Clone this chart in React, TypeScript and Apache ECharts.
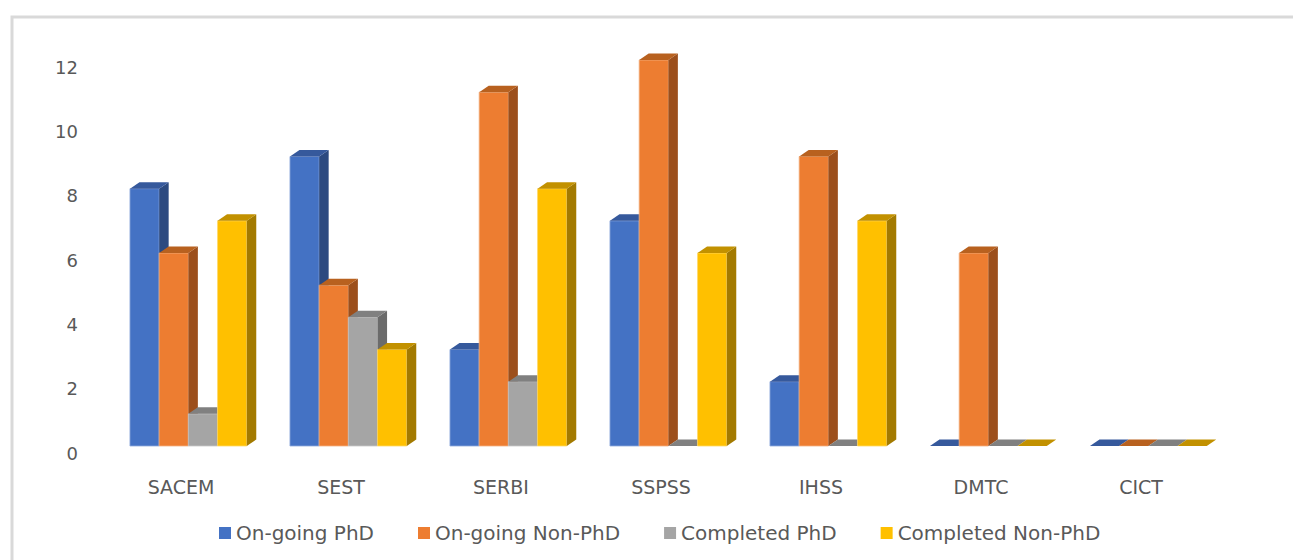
import React, { useEffect, useRef } from "react";
import * as echarts from "echarts";

const categories = ["SACEM", "SEST", "SERBI", "SSPSS", "IHSS", "DMTC", "CICT"];
const seriesNames = ["On-going PhD", "On-going Non-PhD", "Completed PhD", "Completed Non-PhD"];
const ongoingPhd = [8, 9, 3, 7, 2, 0, 0];
const ongoingNonPhd = [6, 5, 11, 12, 9, 6, 0];
const completedPhd = [1, 4, 2, 0, 0, 0, 0];
const completedNonPhd = [7, 3, 8, 6, 7, 0, 0];
const seriesValues = [ongoingPhd, ongoingNonPhd, completedPhd, completedNonPhd];

const frontColors = ["#4472C4", "#ED7D31", "#A5A5A5", "#FFC000"];
const topColors = ["#36599C", "#B8611F", "#808080", "#C29100"];
const sideColors = ["#2C4A80", "#9C4F1C", "#6B6B6B", "#A37A00"];
const edgeColors = ["#8FAADC", "#F4B183", "#C9C9C9", "#FFD966"];

export default function App() {
  const ref = useRef<HTMLDivElement>(null);
  useEffect(() => {
    if (!ref.current) return;
    const chart = echarts.init(ref.current, null, { renderer: "svg" });
    const makeRender = (sIdx: number) => (params: any, api: any) => {
      const ci = api.value(0);
      const v = api.value(1);
      const base = api.coord([ci, 0]);
      const top = api.coord([ci, v]);
      const band = api.size([1, 0])[0];
      const bw = band * 0.1825;
      const x0 = base[0] - band * 0.319 + sIdx * bw;
      const yb = base[1] - 7;
      const yt = top[1] - 7;
      const dx = 9.5;
      const dy = -6.5;
      const children: any[] = [];
      if (yb - yt > 0.5) {
        children.push({
          type: "rect",
          shape: { x: x0, y: yt, width: bw, height: yb - yt },
          style: { fill: frontColors[sIdx], stroke: edgeColors[sIdx], lineWidth: 0.8 },
        });
        children.push({
          type: "polygon",
          shape: {
            points: [
              [x0 + bw, yt],
              [x0 + bw + dx, yt + dy],
              [x0 + bw + dx, yb + dy],
              [x0 + bw, yb],
            ],
          },
          style: { fill: sideColors[sIdx] },
        });
      }
      children.push({
        type: "polygon",
        shape: {
          points: [
            [x0, yt],
            [x0 + dx, yt + dy],
            [x0 + bw + dx, yt + dy],
            [x0 + bw, yt],
          ],
        },
        style: { fill: topColors[sIdx] },
      });
      return { type: "group", children };
    };

    const series = seriesNames.map((name, sIdx) => ({
      type: "custom",
      name,
      itemStyle: { color: frontColors[sIdx] },
      renderItem: makeRender(sIdx),
      encode: { x: 0, y: 1 },
      data: seriesValues[sIdx].map((v, i) => [i, v]),
      z: 2,
    }));

    chart.setOption({
      animation: false,
      backgroundColor: "#ffffff",
      graphic: [
        {
          type: "rect",
          left: 9.5,
          top: 14.5,
          shape: { x: 0, y: 0, width: 1400, height: 700 },
          style: { fill: "none", stroke: "#D9D9D9", lineWidth: 3 },
          silent: true,
        },
      ],
      grid: { left: 101, right: 72, top: 67, bottom: 107 },
      xAxis: {
        type: "category",
        data: categories,
        axisLine: { show: false },
        axisTick: { show: false },
        splitLine: { show: false },
        axisLabel: {
          color: "#595959",
          fontSize: 19,
          fontFamily: "'Liberation Sans Narrow', 'DejaVu Sans'",
          margin: 24,
        },
      },
      yAxis: {
        type: "value",
        min: 0,
        max: 12,
        interval: 2,
        axisLine: { show: false },
        axisTick: { show: false },
        splitLine: { show: false },
        axisLabel: {
          color: "#595959",
          fontSize: 18,
          fontFamily: "'DejaVu Sans'",
          margin: 23,
        },
      },
      legend: {
        data: seriesNames,
        left: 219,
        top: 523,
        padding: 0,
        itemWidth: 12,
        itemHeight: 12,
        itemGap: 44,
        icon: "rect",
        textStyle: { color: "#595959", fontSize: 20, fontFamily: "'DejaVu Sans'" },
      },
      series,
    });
    return () => chart.dispose();
  }, []);
  return (
    <div
      ref={ref}
      style={{ position: "fixed", left: 0, top: 0, width: 1293, height: 560 }}
    />
  );
}
